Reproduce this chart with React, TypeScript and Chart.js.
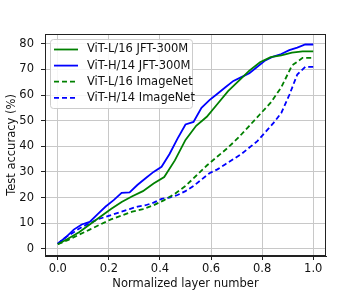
import React, { useEffect, useRef } from "react";
import { Chart, registerables } from "chart.js";

Chart.register(...registerables);

const seriesLabels = [
  "ViT-L/16 JFT-300M",
  "ViT-H/14 JFT-300M",
  "ViT-L/16 ImageNet",
  "ViT-H/14 ImageNet",
];

// ViT-L/16: 24 layers -> 25 points at k/24
const lJft = [1.8, 4, 6.5, 9.5, 12.5, 15.5, 18.3, 20.5, 22.5, 25.5, 28, 34.5, 42.5, 48, 51.5, 56.5, 61.5, 65.5, 69.5, 72.8, 74.8, 75.5, 76.5, 77, 77];
const lImageNet = [1.8, 3.5, 5.5, 7.5, 9.5, 11.5, 13, 14.5, 15.5, 17, 19, 21.5, 24.5, 28.5, 32.5, 36, 39.5, 43.5, 48, 52.5, 57, 63, 71.5, 74.5, 74.5];
// ViT-H/14: 32 layers -> 33 points at k/32
const hJft = [2, 4.5, 7.5, 9.5, 10.5, 13.5, 16.5, 19, 21.8, 22, 25, 27.5, 30, 32, 37, 43, 48.5, 49.5, 55, 58, 60.5, 63, 65.5, 67, 68.5, 71, 73.5, 75, 76, 77.5, 78.5, 79.7, 79.7];
const hImageNet = [2, 4.5, 6.5, 8.5, 10, 11.5, 12.5, 13.5, 14.5, 15.5, 16.5, 17, 18, 19.5, 20, 21, 22.5, 24.5, 27, 29.5, 31, 33, 35, 37, 39.5, 42, 45.5, 49, 53, 60, 68, 71, 71];

const xTicks = [0, 0.2, 0.4, 0.6, 0.8, 1.0];
const yTicks = [0, 10, 20, 30, 40, 50, 60, 70, 80];

const GREEN = "#008000";
const BLUE = "#0000ff";
const FONT = "'DejaVu Sans', sans-serif";
const FS = 11.5;

const toPoints = (vals: number[]) =>
  vals.map((v, i) => ({ x: i / (vals.length - 1), y: v }));

const frameAndLegend = {
  id: "frameAndLegend",
  afterDraw(chart: any) {
    const { ctx, chartArea: a } = chart;
    ctx.save();
    ctx.strokeStyle = "#222";
    ctx.lineWidth = 1;
    ctx.strokeRect(Math.round(a.left) + 0.5, Math.round(a.top) + 0.5, Math.round(a.right - a.left) - 1, Math.round(a.bottom - a.top) - 1);

    // legend
    const bx = a.left + 5, by = a.top + 5, bw = 142, bh = 69;
    ctx.fillStyle = "rgba(255,255,255,0.85)";
    ctx.strokeStyle = "#cccccc";
    ctx.beginPath();
    (ctx as any).roundRect(bx + 0.5, by + 0.5, bw, bh, 3);
    ctx.fill();
    ctx.stroke();
    const items = chart.data.datasets;
    ctx.font = `${FS}px ${FONT}`;
    ctx.textBaseline = "middle";
    items.forEach((ds: any, i: number) => {
      const y = by + 10.5 + i * 16.1;
      ctx.strokeStyle = ds.borderColor;
      ctx.lineWidth = 1.8;
      ctx.setLineDash(ds.borderDash || []);
      ctx.beginPath();
      ctx.moveTo(bx + 4, y);
      ctx.lineTo(bx + 28, y);
      ctx.stroke();
      ctx.setLineDash([]);
      ctx.fillStyle = "#111";
      ctx.fillText(ds.label, bx + 37, y);
    });
    ctx.restore();
  },
};

export default function App() {
  const ref = useRef<HTMLCanvasElement>(null);
  useEffect(() => {
    const mk = (label: string, vals: number[], color: string, dashed: boolean) => ({
      label,
      data: toPoints(vals),
      borderColor: color,
      backgroundColor: color,
      borderWidth: 1.8,
      borderDash: dashed ? [5, 3] : undefined,
      pointRadius: 0,
      tension: 0,
      fill: false,
    });
    const chart = new Chart(ref.current!, {
      type: "line",
      data: {
        datasets: [
          mk(seriesLabels[0], lJft, GREEN, false),
          mk(seriesLabels[1], hJft, BLUE, false),
          mk(seriesLabels[2], lImageNet, GREEN, true),
          mk(seriesLabels[3], hImageNet, BLUE, true),
        ],
      },
      options: {
        animation: false,
        responsive: false,
        layout: { padding: { top: 34, right: 37, left: 0, bottom: 0 } },
        plugins: { legend: { display: false }, tooltip: { enabled: false } },
        scales: {
          x: {
            type: "linear",
            min: -0.05,
            max: 1.05,
            afterBuildTicks: (s: any) => { s.ticks = xTicks.map((v) => ({ value: v })); },
            afterFit: (s: any) => { s.height = 35; },
            ticks: {
              callback: (v: any) => Number(v).toFixed(1),
              color: "#111",
              font: { family: FONT, size: FS },
              padding: 2,
              maxRotation: 0,
            },
            grid: { color: "#c8c8c8", lineWidth: 1, tickColor: "#222", tickLength: 4 },
            border: { display: true, color: "#222" },
            title: {
              display: true,
              text: "Normalized layer number",
              color: "#111",
              font: { family: FONT, size: FS },
              padding: { top: 0, bottom: 0 },
            },
          },
          y: {
            type: "linear",
            min: -2.8,
            max: 83.8,
            afterBuildTicks: (s: any) => { s.ticks = yTicks.map((v) => ({ value: v })); },
            afterFit: (s: any) => { s.width = 45; },
            ticks: {
              color: "#111",
              font: { family: FONT, size: FS },
              padding: 7,
            },
            grid: { color: "#c8c8c8", lineWidth: 1, tickColor: "#222", tickLength: 4 },
            border: { display: true, color: "#222" },
            title: {
              display: true,
              text: "Test accuracy (%)",
              color: "#111",
              font: { family: FONT, size: FS },
              padding: { top: 5, bottom: 0 },
            },
          },
        },
      },
      plugins: [frameAndLegend],
    });
    return () => chart.destroy();
  }, []);
  return (
    <div style={{ position: "absolute", left: 0, top: 0, width: 363, height: 291, background: "#fff" }}>
      <canvas ref={ref} width={363} height={291} style={{ width: 363, height: 291 }} />
    </div>
  );
}
